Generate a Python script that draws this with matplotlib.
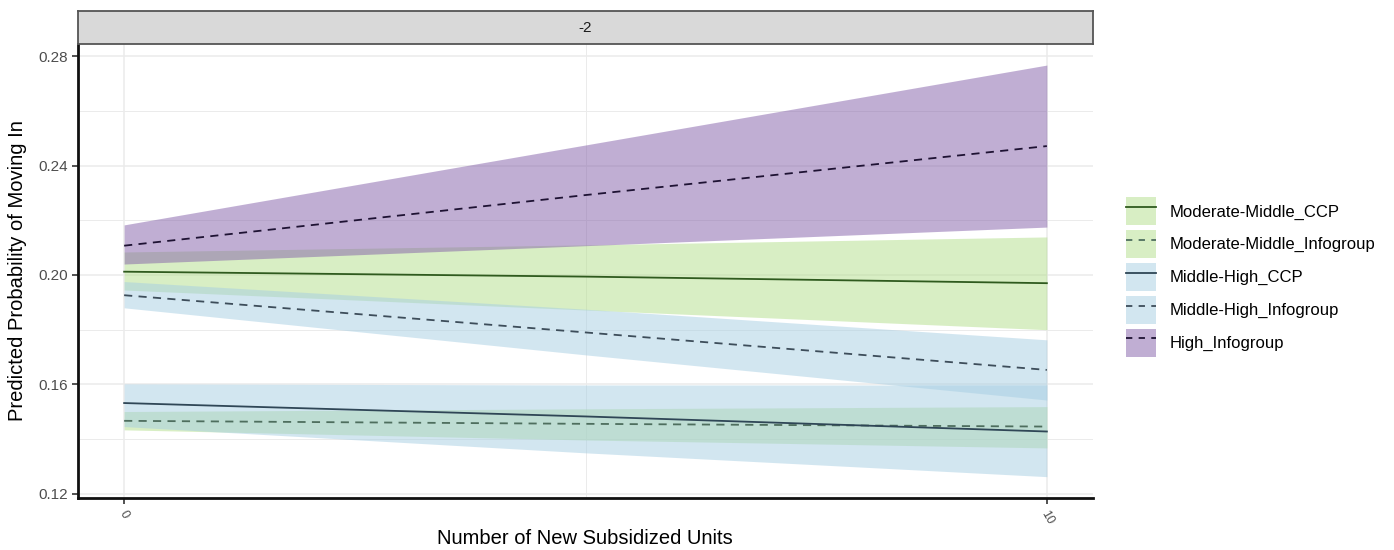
import matplotlib
matplotlib.use("Agg")
import matplotlib.pyplot as plt
from matplotlib.patches import Patch
from matplotlib.lines import Line2D
from matplotlib.ticker import FixedLocator

plt.rcParams['font.family'] = ['Liberation Sans', 'DejaVu Sans']

# predicted probabilities with 95% bands, at 0, 5 and 10 new units
units = [0, 5, 10]

mm_ccp_fit = [0.2012, 0.1994, 0.1970]
mm_ccp_lo = [0.1945, 0.1872, 0.1800]
mm_ccp_hi = [0.2084, 0.2110, 0.2139]

mm_info_fit = [0.1467, 0.1456, 0.1446]
mm_info_lo = [0.1434, 0.1397, 0.1368]
mm_info_hi = [0.1501, 0.1511, 0.1519]

mh_ccp_fit = [0.1532, 0.1483, 0.1428]
mh_ccp_lo = [0.1446, 0.1350, 0.1263]
mh_ccp_hi = [0.1602, 0.1598, 0.1598]

mh_info_fit = [0.1926, 0.1790, 0.1653]
mh_info_lo = [0.1880, 0.1708, 0.1543]
mh_info_hi = [0.1976, 0.1875, 0.1763]

high_info_fit = [0.2107, 0.2292, 0.2471]
high_info_lo = [0.2040, 0.2107, 0.2175]
high_info_hi = [0.2183, 0.2475, 0.2767]

groups = ["Moderate-Middle_CCP", "Moderate-Middle_Infogroup", "Middle-High_CCP",
          "Middle-High_Infogroup", "High_Infogroup"]
facet_label = "-2"

series = [
    (mm_ccp_fit, mm_ccp_lo, mm_ccp_hi),
    (mm_info_fit, mm_info_lo, mm_info_hi),
    (mh_ccp_fit, mh_ccp_lo, mh_ccp_hi),
    (mh_info_fit, mh_info_lo, mh_info_hi),
    (high_info_fit, high_info_lo, high_info_hi),
]
fills = ["#b2df8a", "#b2df8a", "#a6cee3", "#a6cee3", "#835fa9"]
line_cols = ["#2f5a1e", "#4e6e5e", "#2f4656", "#3d4d5a", "#1e1233"]
solid = [True, False, True, False, False]
fill_alpha = 0.5
dash = (4.5, 3.5)

W, H = 1394, 550
fig = plt.figure(figsize=(W / 100, H / 100), dpi=100)
ax = fig.add_axes([78 / W, 1 - 498 / H, (1093 - 78) / W, (498 - 44) / H])
strip = fig.add_axes([78 / W, 1 - 44 / H, (1093 - 78) / W, 33 / H])

# facet strip
strip.set_facecolor("#d9d9d9")
strip.set_xticks([])
strip.set_yticks([])
for s in strip.spines.values():
    s.set_color("#555555")
    s.set_linewidth(1.3)
strip.text(0.5, 0.5, facet_label, ha="center", va="center", fontsize=11,
           color="#1a1a1a", transform=strip.transAxes)

# ribbons and fitted lines
for (fit, lo, hi), fc in zip(series, fills):
    ax.fill_between(units, lo, hi, color=fc, alpha=fill_alpha, lw=0, zorder=2)
for (fit, lo, hi), lc, sol in zip(series, line_cols, solid):
    if sol:
        ax.plot(units, fit, color=lc, lw=1.3, zorder=3)
    else:
        ax.plot(units, fit, color=lc, lw=1.3, dashes=dash, zorder=3)

ax.set_xlim(-0.5, 10.5)
ax.set_ylim(0.1185, 0.2844)
ax.set_xticks([0, 10])
ax.set_xticklabels(["0", "10"], rotation=-60, ha="center", va="top")
ax.xaxis.set_minor_locator(FixedLocator([5]))
ax.set_yticks([0.12, 0.16, 0.20, 0.24, 0.28])
ax.set_yticklabels(["0.12", "0.16", "0.20", "0.24", "0.28"])
ax.yaxis.set_minor_locator(FixedLocator([0.14, 0.18, 0.22, 0.26]))
ax.tick_params(which="major", length=4, width=1.1, color="#222222",
               labelcolor="#4d4d4d", labelsize=11)
ax.tick_params(axis="x", which="major", labelsize=9)
ax.tick_params(which="minor", length=0)
ax.set_axisbelow(True)
ax.grid(which="major", color="#ebebeb", lw=1.1)
ax.grid(which="minor", color="#ebebeb", lw=0.7)
for side in ["top", "right"]:
    ax.spines[side].set_visible(False)
for side in ["left", "bottom"]:
    ax.spines[side].set_linewidth(2)
    ax.spines[side].set_color("#111111")

fig.text(585 / W, 1 - 538 / H, "Number of New Subsidized Units", fontsize=14.5,
         ha="center", va="center")
ax.set_ylabel("Predicted Probability of Moving In", fontsize=14.5, labelpad=8)

# legend keys: filled box with the line drawn over it
handles = []
for fc, lc, sol in zip(fills, line_cols, solid):
    box = Patch(facecolor=fc, alpha=fill_alpha, lw=0)
    if sol:
        ln = Line2D([], [], color=lc, lw=1.3)
    else:
        ln = Line2D([], [], color=lc, lw=1.3, dashes=(3.5, 3.5))
    handles.append((box, ln))

fig.legend(handles, groups, loc="center left", bbox_to_anchor=(1126 / W, 1 - 277 / H),
           frameon=False, fontsize=12, handlelength=1.8, handleheight=2.2,
           labelspacing=0.3, handletextpad=0.8, borderpad=0, borderaxespad=0)

fig.savefig("out.png", dpi=100)
